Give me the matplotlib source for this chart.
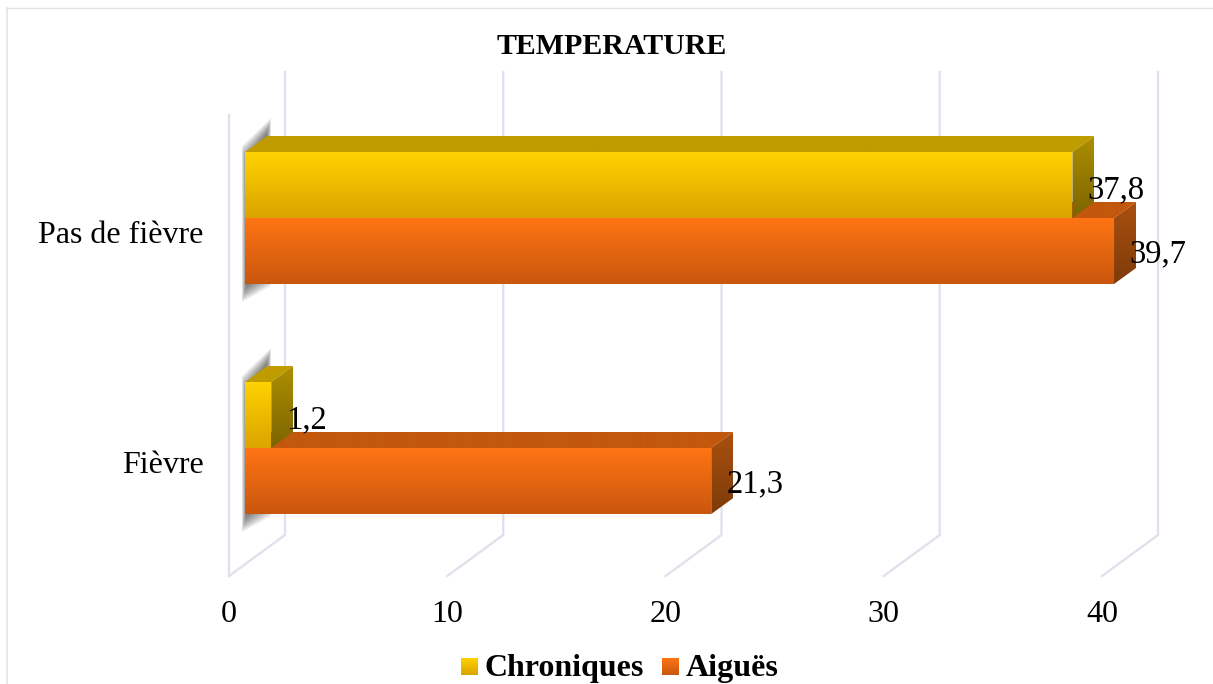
import numpy as np
import matplotlib
matplotlib.use("Agg")
import matplotlib.pyplot as plt
from matplotlib.colors import LinearSegmentedColormap
from matplotlib.lines import Line2D
from matplotlib.patches import Polygon

categories = ["Fièvre", "Pas de fièvre"]
chroniques = [1.2, 37.8]
aigues = [21.3, 39.7]
x_ticks = [0, 10, 20, 30, 40]
series_names = ["Chroniques", "Aiguës"]

plt.rcParams["font.family"] = ["Liberation Serif", "DejaVu Serif"]

W, H = 1213, 684
YELLOW = {"front": ("#FFD200", "#DBA400"), "top": ("#BF9C00", "#BF9C00"), "side": ("#AC8F00", "#7D6400")}
ORANGE = {"front": ("#FF7414", "#C9570E"), "top": ("#C2580C", "#C2580C"), "side": ("#A9500F", "#7E3B0A")}
GRID = "#DFE2EC"

fig = plt.figure(figsize=(W / 100, H / 100), dpi=100)


def add_axes_px(left, top, right, bottom, **kw):
    return fig.add_axes([left / W, 1 - bottom / H, (right - left) / W, (bottom - top) / H], **kw)


def gradient_face(ax, verts, colors, zorder):
    verts = np.array(verts)
    cmap = LinearSegmentedColormap.from_list("f", colors)
    grad = np.linspace(0, 1, 128).reshape(-1, 1)
    extent = (verts[:, 0].min(), verts[:, 0].max(), verts[:, 1].min(), verts[:, 1].max())
    im = ax.imshow(grad, cmap=cmap, extent=extent, aspect="auto", origin="upper",
                   interpolation="bilinear", zorder=zorder)
    im.set_clip_path(Polygon(verts, transform=ax.transData))


# ---- frame (left and top only, the crop loses the others)
fig.add_artist(Line2D([7 / W, 7 / W], [1 - 8 / H, 0], color="#E4E7EF", lw=1.3))
fig.add_artist(Line2D([6 / W, 1], [1 - 7.5 / H, 1 - 7.5 / H], color="#E2E2E2", lw=1.0))

# ---- grid: front floor edge carries the ticks, the back wall is offset from it
ax_grid = add_axes_px(229, 72, 1102, 576)
ax_grid.set_xlim(0, 40)
ax_grid.set_ylim(0, 1)
ax_grid.set_yticks([])
ax_grid.set_xticks(x_ticks)
ax_grid.tick_params(axis="x", length=0, pad=17, labelsize=23)
for s in ax_grid.spines.values():
    s.set_visible(False)
back_dx = 56 / (873 / 40)
back_dy = 41 / 504
for v in x_ticks:
    ax_grid.plot([v, v + back_dx, v + back_dx], [0, back_dy, 1], color=GRID, lw=1.7, clip_on=False)
ax_grid.plot([0, 0], [0, 461 / 504], color=GRID, lw=1.7, clip_on=False)

# ---- bars
px_per_unit = 21.89
px_per_cat = 230
ax = add_axes_px(245, 0, W, H)
ax.patch.set_alpha(0)
dx = 22 / px_per_unit
dy = 16 / px_per_cat
bar_h = 66 / px_per_cat
label_off = 15 / px_per_unit


def draw_faces_back(y0, y1, v, col, z):
    gradient_face(ax, [(0, y1), (v, y1), (v + dx, y1 + dy), (dx, y1 + dy)], col["top"], z)
    gradient_face(ax, [(v, y0), (v + dx, y0 + dy), (v + dx, y1 + dy), (v, y1)], col["side"], z)


for i, cat in enumerate(categories):
    # soft shadow behind the bar start
    for k in range(14):
        g = (k * 1.5 - 4) / px_per_cat
        gx = k * 0.4 / px_per_unit
        ax.add_patch(Polygon(
            [(-3 / px_per_unit + gx, i - bar_h - 14 / px_per_cat + g),
             (dx + 4 / px_per_unit - gx, i - bar_h + 2 / px_per_cat + g),
             (dx + 4 / px_per_unit - gx, i + bar_h + 30 / px_per_cat - g),
             (-3 / px_per_unit + gx, i + bar_h + 2 / px_per_cat - g)],
            closed=True, fc="#4A4A4A", ec="none", alpha=0.09, zorder=1, clip_on=False))

    # orange back faces go first, the yellow bar stands in front of them
    draw_faces_back(i - bar_h, i, aigues[i], ORANGE, 2)
    draw_faces_back(i, i + bar_h, chroniques[i], YELLOW, 3)
    gradient_face(ax, [(0, i), (chroniques[i], i), (chroniques[i], i + bar_h), (0, i + bar_h)], YELLOW["front"], 4)
    gradient_face(ax, [(0, i - bar_h), (aigues[i], i - bar_h), (aigues[i], i), (0, i)], ORANGE["front"], 5)

    ax.text(chroniques[i] + label_off, i + bar_h / 2 - 5 / px_per_cat,
            f"{chroniques[i]}".replace(".", ","), fontsize=23.5, va="center", ha="left", color="black", zorder=6)
    ax.text(aigues[i] + label_off, i - bar_h / 2 - 3 / px_per_cat,
            f"{aigues[i]}".replace(".", ","), fontsize=23.5, va="center", ha="left", color="black", zorder=6)

ax.set_xlim(0, (W - 245) / px_per_unit)
ax.set_ylim((448 - H) / px_per_cat, 448 / px_per_cat)
ax.set_xticks([])
# labels sit a little under the seam between the two bars
ax.set_yticks([i - 14 / px_per_cat for i in range(len(categories))])
ax.set_yticklabels(categories)
ax.tick_params(axis="y", length=0, pad=30, labelsize=23)
for s in ax.spines.values():
    s.set_visible(False)

fig.text(612 / W, 1 - 47 / H, "TEMPERATURE", fontsize=21.5, fontweight="bold", ha="center", va="center")

# ---- legend
for name, col, sx, tx in zip(series_names, [YELLOW, ORANGE], [461, 662], [485, 686]):
    ax_sw = add_axes_px(sx, 658, sx + 17, 675)
    ax_sw.imshow(np.linspace(0, 1, 64).reshape(-1, 1), aspect="auto",
                 cmap=LinearSegmentedColormap.from_list("s", col["front"]))
    ax_sw.axis("off")
    fig.text(tx / W, 1 - 676 / H, name, fontsize=23, fontweight="bold", ha="left", va="baseline")

fig.savefig("out.png", dpi=100)
